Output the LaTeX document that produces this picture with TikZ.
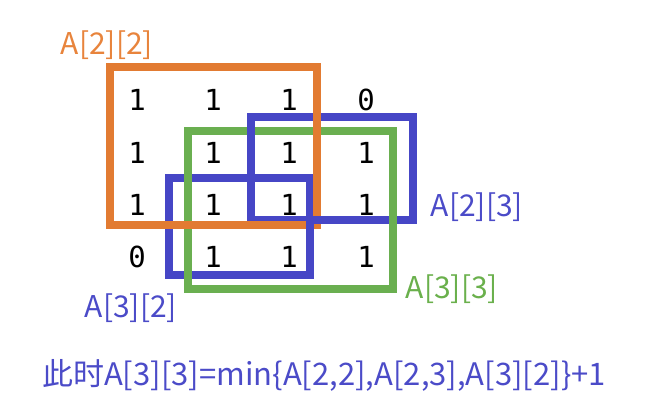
\documentclass[tikz,border=0pt]{standalone}
\usepackage{fontspec}
\setmainfont{Noto Sans CJK SC}
\newfontfamily\numfont{DejaVu Sans Mono}
\definecolor{cOrange}{HTML}{E27B32}
\definecolor{cGreen}{HTML}{6AAF50}
\definecolor{cBlue}{HTML}{4646C6}
\definecolor{tOrange}{HTML}{E8843C}
\definecolor{tGreen}{HTML}{6AB04C}
\definecolor{tBlue}{HTML}{4B4BC8}
\tikzset{
  boxline/.style={line width=8pt, line join=miter},
  num/.style={font=\numfont\fontsize{29}{29}\selectfont, text=black, inner sep=0pt},
  lbl/.style={font=\fontsize{30}{30}\selectfont, inner sep=0pt},
}
\begin{document}
\begin{tikzpicture}[x=1pt,y=-1pt]
\useasboundingbox (0,0) rectangle (668,406);
% matrix entries
\node[num] (m11) at (137,100) {1};
\node[num] (m12) at (213,100) {1};
\node[num] (m13) at (289,100) {1};
\node[num] (m14) at (366,100) {0};
\node[num] (m21) at (137,153) {1};
\node[num] (m22) at (213,153) {1};
\node[num] (m23) at (289,153) {1};
\node[num] (m24) at (366,153) {1};
\node[num] (m31) at (137,205) {1};
\node[num] (m32) at (213,205) {1};
\node[num] (m33) at (289,205) {1};
\node[num] (m34) at (366,205) {1};
\node[num] (m41) at (137,257) {0};
\node[num] (m42) at (213,257) {1};
\node[num] (m43) at (289,257) {1};
\node[num] (m44) at (366,257) {1};
% boxes
\draw[boxline, cBlue] (169,178) rectangle (310,275);     % A[3][2]
\draw[boxline, cBlue] (251,117) rectangle (413,219.5);   % A[2][3]
\draw[boxline, cGreen] (188,131) rectangle (392.5,289);  % A[3][3]
\draw[boxline, cOrange] (110,67) rectangle (316.5,225);  % A[2][2]
% crossings where blue lies on top
\draw[boxline, cBlue] (251,125) -- (251,138);
\draw[boxline, cBlue] (311,219.5) -- (322,219.5);
\draw[boxline, cBlue] (310,219) -- (310,231);
% labels
\node[lbl, text=tOrange] (l22) at (107,45) {A[2][2]};
\node[lbl, text=tBlue] (l23) at (477,207) {A[2][3]};
\node[lbl, text=tGreen] (l33) at (452,289) {A[3][3]};
\node[lbl, text=tBlue] (l32) at (131,308) {A[3][2]};
\node[lbl, text=tBlue, font=\fontsize{31}{31}\selectfont] (cap) at (324,375) {此时A[3][3]=min\{A[2,2],A[2,3],A[3][2]\}+1};
\end{tikzpicture}
\end{document}
